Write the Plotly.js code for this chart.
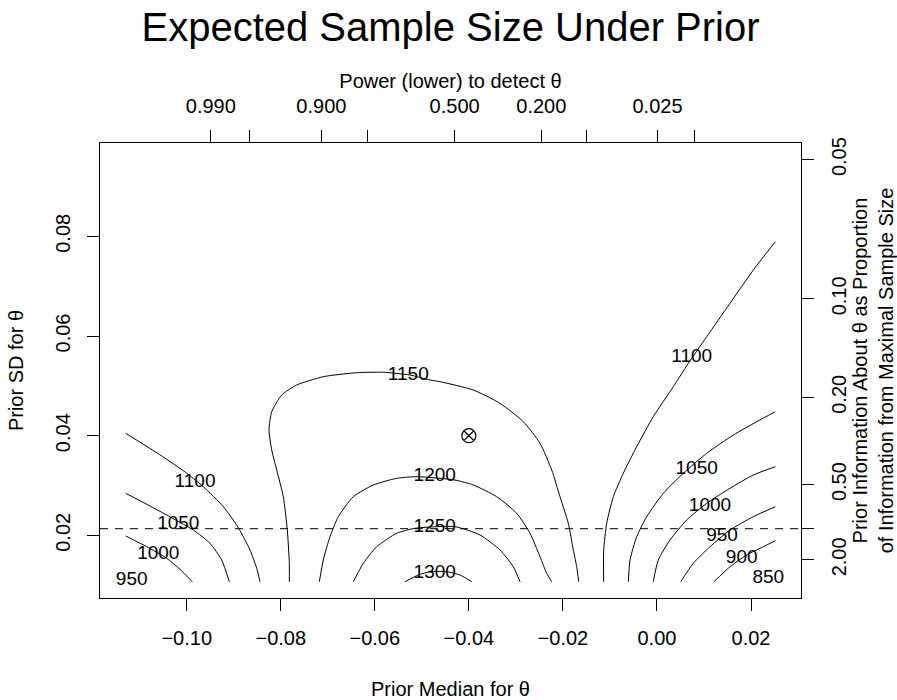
<!DOCTYPE html>
<html>
<head>
<meta charset="utf-8">
<script src="https://cdn.plot.ly/plotly-3.0.1.min.js"></script>
<style>
  html, body { margin: 0; padding: 0; background: #ffffff; }
  #chart { width: 897px; height: 700px; }
</style>
</head>
<body>
<div id="chart"></div>
<script>
// ---------- Contour lines (x = prior median, y = prior SD) ----------
const c1100L_x = [-0.11297, -0.10638, -0.10072, -0.09647, -0.09222, -0.08903, -0.08654, -0.08511, -0.08441];
const c1100L_y = [0.04047, 0.03658, 0.03297, 0.02976, 0.02575, 0.02153, 0.01706, 0.01338, 0.01069];

const c1050L_x = [-0.11297, -0.10780, -0.10285, -0.09860, -0.09505, -0.09256, -0.09094];
const c1050L_y = [0.02843, 0.02589, 0.02334, 0.02107, 0.01840, 0.01505, 0.01069];

const c1000L_x = [-0.11297, -0.10851, -0.10425, -0.10142, -0.09881];
const c1000L_y = [0.01987, 0.01772, 0.01539, 0.01318, 0.01069];

const c1150_x = [-0.07818, -0.07818, -0.07861, -0.07946, -0.08086, -0.08192, -0.08250, -0.08192, -0.07980,
                 -0.07661, -0.07095, -0.06385, -0.05819, -0.05252, -0.04826, -0.04614, -0.03905, -0.03338,
                 -0.02842, -0.02487, -0.02238, -0.02062, -0.01885, -0.01779, -0.01707, -0.01664];
const c1150_y = [0.01069, 0.01439, 0.02107, 0.02775, 0.03311, 0.03712, 0.04114, 0.04481, 0.04816,
                 0.05017, 0.05183, 0.05264, 0.05272, 0.05217, 0.05117, 0.05083, 0.04916, 0.04649,
                 0.04280, 0.03847, 0.03311, 0.02775, 0.02241, 0.01706, 0.01370, 0.01069];

const c1200_x = [-0.07180, -0.07095, -0.06953, -0.06776, -0.06457, -0.06032, -0.05534, -0.05109, -0.04295,
                 -0.03905, -0.03408, -0.02983, -0.02700, -0.02487, -0.02345, -0.02238];
const c1200_y = [0.01069, 0.01505, 0.01973, 0.02374, 0.02775, 0.03010, 0.03144, 0.03177, 0.03110,
                 0.03010, 0.02775, 0.02442, 0.02041, 0.01571, 0.01238, 0.01069];

const c1250_x = [-0.06457, -0.06245, -0.05960, -0.05534, -0.05145, -0.04295, -0.03763, -0.03338, -0.03055, -0.02912];
const c1250_y = [0.01069, 0.01439, 0.01772, 0.02041, 0.02141, 0.02173, 0.02007, 0.01706, 0.01370, 0.01069];

const c1300_x = [-0.05358, -0.05075, -0.04826, -0.04471, -0.04188, -0.03939];
const c1300_y = [0.01069, 0.01204, 0.01270, 0.01270, 0.01204, 0.01069];

const c1100R_x = [-0.01133, -0.01133, -0.01069, -0.00928, -0.00716, -0.00431, -0.00078, 0.00348, 0.00667,
                  0.01058, 0.01553, 0.02049, 0.02517];
const c1100R_y = [0.01069, 0.01706, 0.02241, 0.02775, 0.03245, 0.03779, 0.04381, 0.04983, 0.05452,
                  0.05986, 0.06656, 0.07324, 0.07892];

const c1050R_x = [-0.00609, -0.00573, -0.00431, -0.00218, 0.00135, 0.00560, 0.01058, 0.01624, 0.02121, 0.02517];
const c1050R_y = [0.01069, 0.01505, 0.01973, 0.02374, 0.02843, 0.03245, 0.03646, 0.04013, 0.04280, 0.04481];

const c1000R_x = [-0.00078, 0.00028, 0.00277, 0.00633, 0.01058, 0.01553, 0.02049, 0.02517];
const c1000R_y = [0.01069, 0.01505, 0.01906, 0.02308, 0.02643, 0.02944, 0.03211, 0.03377];

const c950R_x = [0.00505, 0.00773, 0.01128, 0.01553, 0.02049, 0.02517];
const c950R_y = [0.01069, 0.01439, 0.01772, 0.02107, 0.02374, 0.02575];

const c900R_x = [0.01213, 0.01553, 0.01908, 0.02261, 0.02517];
const c900R_y = [0.01069, 0.01370, 0.01605, 0.01772, 0.01892];

// ---------- Contour labels ----------
const labelText = ['1100', '1050', '1000', '950', '1150', '1200', '1250', '1300',
                   '1100', '1050', '1000', '950', '900', '850'];
const labelX = [-0.09823, -0.10179, -0.10604, -0.11170, -0.05288, -0.04726, -0.04726, -0.04726,
                0.00739, 0.00845, 0.01128, 0.01383, 0.01802, 0.02368];
const labelY = [0.03060, 0.02221, 0.01625, 0.01090, 0.05203, 0.03177, 0.02161, 0.01238,
                0.05573, 0.03331, 0.02575, 0.01973, 0.01539, 0.01138];

// ---------- Reference point and reference line ----------
const pointX = [-0.04];
const pointY = [0.04];
const refLineSD = 0.02133;   // prior SD giving prior information = 1.00

// ---------- Axis ticks ----------
const bottomTickVals = [-0.10, -0.08, -0.06, -0.04, -0.02, 0.00, 0.02];
const leftTickVals = [0.02, 0.04, 0.06, 0.08];
const powerTickVals = [-0.09488, -0.08669, -0.07136, -0.06160, -0.04303, -0.02459, -0.01492, 0.00012, 0.00803];
const powerTickText = ['0.990', '', '0.900', '', '0.500', '0.200', '', '0.025', ''];
const infoTickVals = [0.09539, 0.06745, 0.04770, 0.03017, 0.02133, 0.01508];
const infoTickText = ['0.05', '0.10', '0.20', '0.50', '', '2.00'];

const xRange = [-0.11844, 0.03063];
const yRange = [0.007424, 0.098729];

const FONT = '"Liberation Sans", Arial, Helvetica, sans-serif';

const lines = [
  [c1100L_x, c1100L_y], [c1050L_x, c1050L_y], [c1000L_x, c1000L_y],
  [c1150_x, c1150_y], [c1200_x, c1200_y], [c1250_x, c1250_y], [c1300_x, c1300_y],
  [c1100R_x, c1100R_y], [c1050R_x, c1050R_y], [c1000R_x, c1000R_y],
  [c950R_x, c950R_y], [c900R_x, c900R_y]
];

const traces = lines.map(function (l) {
  return {
    type: 'scatter', mode: 'lines', x: l[0], y: l[1],
    line: {color: '#000000', width: 1, shape: 'spline', smoothing: 0.6},
    hoverinfo: 'skip', showlegend: false, xaxis: 'x', yaxis: 'y'
  };
});

traces.push({
  type: 'scatter', mode: 'text', x: labelX, y: labelY, text: labelText,
  textposition: 'middle center',
  textfont: {family: FONT, size: 19, color: '#000000'},
  hoverinfo: 'skip', showlegend: false, xaxis: 'x', yaxis: 'y'
});

traces.push({
  type: 'scatter', mode: 'markers', x: pointX, y: pointY,
  marker: {symbol: 'circle-x-open', size: 14, color: '#000000', line: {width: 1.2, color: '#000000'}},
  hoverinfo: 'skip', showlegend: false, xaxis: 'x', yaxis: 'y'
});

// invisible trace to activate the secondary axes
traces.push({type: 'scatter', mode: 'markers', x: [xRange[0]], y: [yRange[0]], marker: {opacity: 0},
  hoverinfo: 'skip', showlegend: false, xaxis: 'x2', yaxis: 'y2'});

const tickFont = {family: FONT, size: 20, color: '#000000'};
const titleFont = {family: FONT, size: 20, color: '#000000'};

const layout = {
  width: 897, height: 700,
  margin: {l: 100, r: 96, t: 143, b: 102, pad: 0},
  paper_bgcolor: '#ffffff', plot_bgcolor: '#ffffff',
  font: {family: FONT, color: '#000000'},
  title: {
    text: 'Expected Sample Size Under Prior',
    font: {family: FONT, size: 40, color: '#000000'},
    x: 0.5, xref: 'paper', xanchor: 'center',
    y: 0.962, yref: 'container', yanchor: 'middle'
  },
  xaxis: {
    range: xRange, tickvals: bottomTickVals, tickformat: '.2f',
    ticks: 'outside', ticklen: 12, tickwidth: 1, tickcolor: '#000000',
    showline: true, linecolor: '#000000', linewidth: 1, mirror: false,
    showgrid: false, zeroline: false, tickfont: tickFont, ticklabelstandoff: 10,
    title: {text: 'Prior Median for θ', font: titleFont, standoff: 40}
  },
  yaxis: {
    range: yRange, tickvals: leftTickVals, tickformat: '.2f', tickangle: -90,
    ticks: 'outside', ticklen: 12, tickwidth: 1, tickcolor: '#000000',
    showline: true, linecolor: '#000000', linewidth: 1, mirror: false,
    showgrid: false, zeroline: false, tickfont: tickFont, ticklabelstandoff: 9,
    title: {text: 'Prior SD for θ', font: titleFont, standoff: 23}
  },
  xaxis2: {
    overlaying: 'x', side: 'top', range: xRange, anchor: 'y',
    tickvals: powerTickVals, ticktext: powerTickText,
    ticks: 'outside', ticklen: 12, tickwidth: 1, tickcolor: '#000000',
    showline: true, linecolor: '#000000', linewidth: 1,
    showgrid: false, zeroline: false, tickfont: tickFont, ticklabelstandoff: 9,
    title: {text: 'Power (lower) to detect θ', font: titleFont, standoff: 1}
  },
  yaxis2: {
    overlaying: 'y', side: 'right', range: yRange, anchor: 'x',
    tickvals: infoTickVals, ticktext: infoTickText, tickangle: -90,
    ticks: 'outside', ticklen: 12, tickwidth: 1, tickcolor: '#000000',
    showline: true, linecolor: '#000000', linewidth: 1,
    showgrid: false, zeroline: false, tickfont: tickFont, ticklabelstandoff: 8,
    title: {text: 'Prior Information About θ as Proportion<br>of Information from Maximal Sample Size',
            font: titleFont, standoff: 19}
  },
  shapes: [{
    type: 'line', xref: 'paper', x0: 0, x1: 1, yref: 'y', y0: refLineSD, y1: refLineSD,
    line: {color: '#000000', width: 1, dash: '8px,7px'}
  }]
};

Plotly.newPlot('chart', traces, layout, {displayModeBar: false, staticPlot: true});
</script>
</body>
</html>
